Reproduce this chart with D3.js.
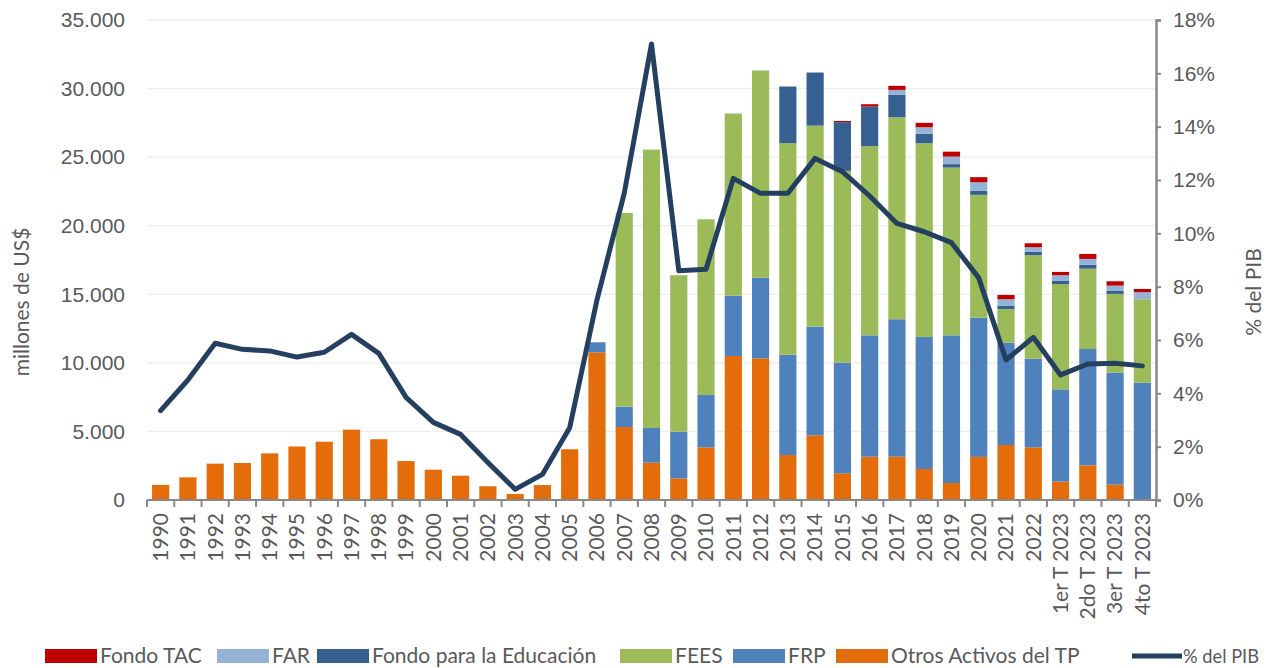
<!DOCTYPE html>
<html>
<head>
<meta charset="utf-8">
<script src="https://cdn.jsdelivr.net/npm/d3@7"></script>
<style>
  body { margin: 0; background: #fff; }
  svg { font-family: Lato, "Open Sans", sans-serif; }
  .tick text { fill: #595959; }
</style>
</head>
<body>
<script>
// categories on the x axis:
var years = ["1990","1991","1992","1993","1994","1995","1996","1997","1998","1999",
    "2000","2001","2002","2003","2004","2005","2006","2007","2008","2009","2010",
    "2011","2012","2013","2014","2015","2016","2017","2018","2019","2020","2021","2022",
    "1er T 2023","2do T 2023","3er T 2023","4to T 2023"];

// series, millones de US$:
var otrosTP = [1100,1650,2650,2700,3400,3900,4250,5130,4430,2840,2210,1770,1000,440,1090,3700,
    10770,5320,2720,1580,3840,10500,10330,3280,4720,1950,3160,3160,2260,1240,3140,4010,3840,
    1340,2530,1120,0];
var frp = [0,0,0,0,0,0,0,0,0,0,0,0,0,0,0,0,
    730,1480,2530,3400,3820,4400,5880,7320,7920,8070,8850,10020,9630,10770,10160,7460,6470,
    6730,8480,8170,8560];
var fees = [0,0,0,0,0,0,0,0,0,0,0,0,0,0,0,0,
    0,14130,20300,11410,12810,13280,15110,15420,14660,13980,13790,14730,14130,12230,8950,2460,7540,
    7680,5860,5740,6080];
var fondoEdu = [0,0,0,0,0,0,0,0,0,0,0,0,0,0,0,0,
    0,0,0,0,0,0,0,4130,3870,3550,2890,1650,680,250,290,220,240,
    250,290,240,0];
var far = [0,0,0,0,0,0,0,0,0,0,0,0,0,0,0,0,
    0,0,0,0,0,0,0,0,0,0,0,340,480,550,630,490,340,
    390,420,360,510];
var fondoTAC = [0,0,0,0,0,0,0,0,0,0,0,0,0,0,0,0,
    0,0,0,0,0,0,0,0,0,90,170,300,320,360,370,310,290,
    240,360,320,240];
// % del PIB (right axis):
var pctPIB = [3.35,4.5,5.88,5.65,5.59,5.36,5.54,6.21,5.5,3.85,2.91,2.46,1.41,0.4,0.96,2.71,
    7.5,11.5,17.1,8.6,8.65,12.06,11.5,11.5,12.81,12.31,11.4,10.37,10.06,9.65,8.33,5.25,6.1,
    4.69,5.1,5.13,5.03];

// ticks:
var leftTicks = [0,5000,10000,15000,20000,25000,30000,35000];
var rightTicks = [0,2,4,6,8,10,12,14,16,18];

// stack order bottom -> top, with legend names + colors:
var seriesKeys = ["otros","frp","fees","edu","far","tac"];
var seriesNames = ["Otros Activos del TP","FRP","FEES","Fondo para la Educación","FAR","Fondo TAC"];
var seriesColors = ["#E46C0A","#4F81BD","#9BBB59","#366092","#95B3D7","#C00000"];
var lineColor = "#243F60";

(function () {
    // frame:
    var width = 1268, height = 668;
    var plotLeft = 147, plotRight = 1156, plotTop = 20, plotBottom = 500;
    var fontSize = "21px";

    var svg = d3.select("body").append("svg")
        .attr("width", width)
        .attr("height", height);

    // build rows for the stack:
    var rows = years.map(function (yr, i) {
        return { year: yr, otros: otrosTP[i], frp: frp[i], fees: fees[i],
                 edu: fondoEdu[i], far: far[i], tac: fondoTAC[i], pct: pctPIB[i] };
    });

    var x = d3.scaleBand()
        .domain(years)
        .range([plotLeft, plotRight])
        .paddingInner(0.37)
        .paddingOuter(0.185);

    var y = d3.scaleLinear().domain([0, 35000]).range([plotBottom, plotTop]);
    var y2 = d3.scaleLinear().domain([0, 18]).range([plotBottom, plotTop]);

    // gridlines:
    svg.append("g").selectAll("line")
        .data(leftTicks.slice(1))
        .enter().append("line")
        .attr("x1", plotLeft).attr("x2", plotRight)
        .attr("y1", function (d) { return y(d); })
        .attr("y2", function (d) { return y(d); })
        .attr("stroke", "#EDEDED")
        .attr("stroke-width", 1.3);

    // stacked bars:
    var stacked = d3.stack().keys(seriesKeys)(rows);
    svg.append("g").selectAll("g")
        .data(stacked)
        .enter().append("g")
        .attr("fill", function (d, i) { return seriesColors[i]; })
        .selectAll("rect")
        .data(function (d) { return d; })
        .enter().append("rect")
        .attr("x", function (d) { return x(d.data.year); })
        .attr("width", x.bandwidth())
        .attr("y", function (d) { return y(d[1]); })
        .attr("height", function (d) { return y(d[0]) - y(d[1]); });

    // left axis (no domain line):
    var yAxis = svg.append("g")
        .attr("transform", "translate(" + plotLeft + ",0)")
        .call(d3.axisLeft(y).tickValues(leftTicks).tickSize(0).tickPadding(22)
            .tickFormat(function (d) { return d3.format(",")(d).replace(/,/g, "."); }));
    yAxis.select(".domain").remove();
    yAxis.selectAll("text").style("font-size", fontSize);

    // right axis:
    var y2Axis = svg.append("g")
        .attr("transform", "translate(" + plotRight + ",0)")
        .call(d3.axisRight(y2).tickValues(rightTicks).tickSize(5).tickPadding(12)
            .tickFormat(function (d) { return d + "%"; }));
    y2Axis.select(".domain").attr("stroke", "#898989").attr("stroke-width", 2.5);
    y2Axis.selectAll("line").attr("stroke", "#898989").attr("stroke-width", 2);
    y2Axis.selectAll("text").style("font-size", fontSize);

    // x axis baseline + ticks between bands:
    svg.append("line")
        .attr("x1", plotLeft).attr("x2", plotRight)
        .attr("y1", plotBottom).attr("y2", plotBottom)
        .attr("stroke", "#898989").attr("stroke-width", 2);
    svg.append("g").selectAll("line")
        .data(years.concat(["end"]))
        .enter().append("line")
        .attr("x1", function (d, i) { return plotLeft + i * x.step(); })
        .attr("x2", function (d, i) { return plotLeft + i * x.step(); })
        .attr("y1", plotBottom).attr("y2", plotBottom + 7)
        .attr("stroke", "#898989").attr("stroke-width", 2);

    // x labels, rotated:
    svg.append("g").selectAll("text")
        .data(years)
        .enter().append("text")
        .attr("transform", function (d) {
            return "translate(" + (x(d) + x.bandwidth() / 2) + "," + (plotBottom + 13) + ") rotate(-90)";
        })
        .attr("text-anchor", "end")
        .attr("dy", "0.35em")
        .attr("fill", "#595959")
        .style("font-size", fontSize)
        .text(function (d) { return d; });

    // % del PIB line:
    var line = d3.line()
        .x(function (d) { return x(d.year) + x.bandwidth() / 2; })
        .y(function (d) { return y2(d.pct); });
    svg.append("path")
        .datum(rows)
        .attr("d", line)
        .attr("fill", "none")
        .attr("stroke", lineColor)
        .attr("stroke-width", 5)
        .attr("stroke-linejoin", "round")
        .attr("stroke-linecap", "round");

    // axis titles:
    svg.append("text")
        .attr("transform", "translate(22,302) rotate(-90)")
        .attr("text-anchor", "middle")
        .attr("dy", "0.35em")
        .attr("fill", "#595959")
        .style("font-size", fontSize)
        .text("millones de US$");
    svg.append("text")
        .attr("transform", "translate(1254," + ((plotTop + plotBottom) / 2 + 32) + ") rotate(-90)")
        .attr("text-anchor", "middle")
        .attr("dy", "0.35em")
        .attr("fill", "#595959")
        .style("font-size", fontSize)
        .text("% del PIB");

    // legend (order as in the picture):
    var legendItems = [
        { name: seriesNames[5], color: seriesColors[5], x: 45 },
        { name: seriesNames[4], color: seriesColors[4], x: 217 },
        { name: seriesNames[3], color: seriesColors[3], x: 317 },
        { name: seriesNames[2], color: seriesColors[2], x: 620 },
        { name: seriesNames[1], color: seriesColors[1], x: 733 },
        { name: seriesNames[0], color: seriesColors[0], x: 836 },
        { name: "% del PIB", color: lineColor, x: 1132, isLine: true }
    ];
    var legend = svg.append("g").attr("transform", "translate(0,656)");
    var items = legend.selectAll("g")
        .data(legendItems)
        .enter().append("g")
        .attr("transform", function (d) { return "translate(" + d.x + ",0)"; });
    items.filter(function (d) { return !d.isLine; })
        .append("rect")
        .attr("x", 0).attr("y", -7)
        .attr("width", 52).attr("height", 14)
        .attr("fill", function (d) { return d.color; });
    items.filter(function (d) { return d.isLine; })
        .append("line")
        .attr("x1", 0).attr("x2", 50).attr("y1", 0).attr("y2", 0)
        .attr("stroke", function (d) { return d.color; })
        .attr("stroke-width", 5);
    items.append("text")
        .attr("x", function (d) { return d.isLine ? 51 : 55; })
        .attr("dy", "0.35em")
        .attr("fill", "#595959")
        .style("font-size", function (d) { return d.isLine ? "20px" : fontSize; })
        .text(function (d) { return d.name; });
    // squeeze the last one so it fits the right edge like the picture
    items.filter(function (d) { return d.isLine; }).select("text")
        .attr("textLength", 76)
        .attr("lengthAdjust", "spacingAndGlyphs");
})();
</script>
</body>
</html>
